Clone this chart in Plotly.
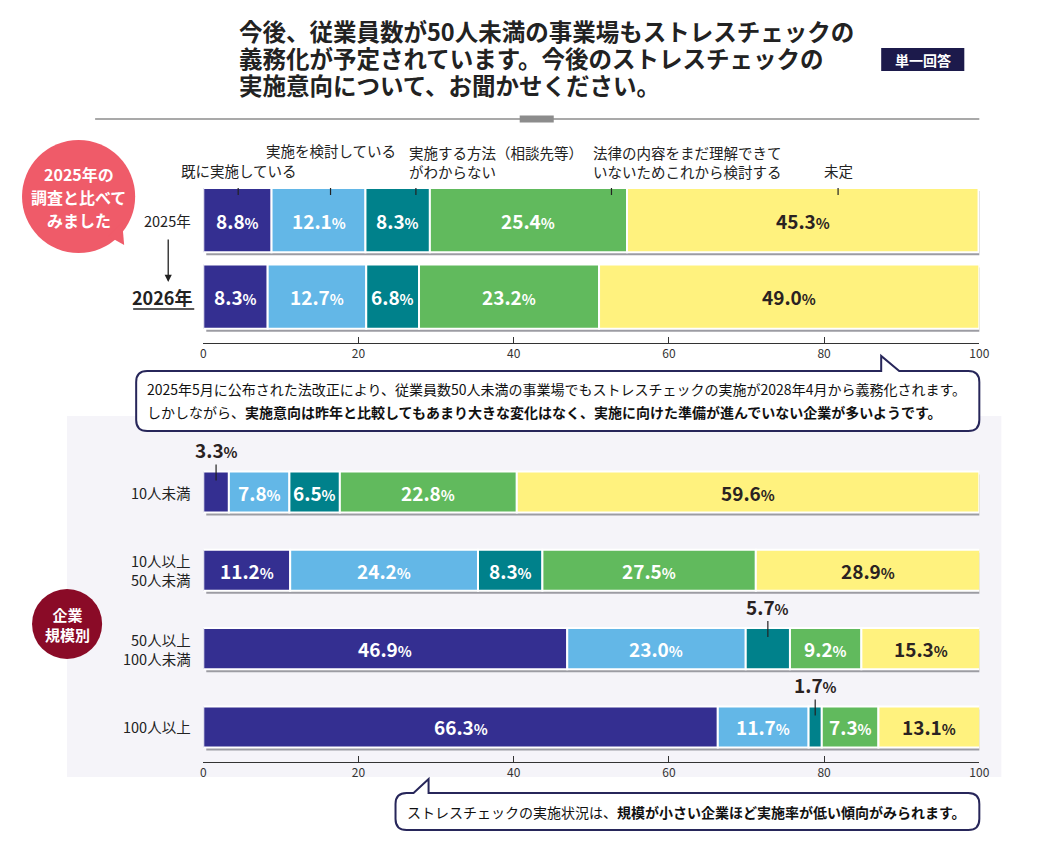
import numpy as np
import plotly.graph_objects as go

# the page adds an 8px body margin, so the figure is made that much smaller
PAGE = 8
W, H = 1044 - 2 * PAGE, 842 - 2 * PAGE
# measured horizontal mapping of figure px -> screenshot px
SX, OX = 0.986, 11.0
FONT = "Noto Sans CJK JP, Noto Sans, sans-serif"

# --- data ---
categories = ["既に実施している", "実施を検討している",
              "実施する方法（相談先等）<br>がわからない",
              "法律の内容をまだ理解できて<br>いないためこれから検討する", "未定"]
colors = ["#342f91", "#63b7e7", "#00818b", "#61ba5d", "#fff27e"]
text_colors = ["white", "white", "white", "white", "#2a2222"]

years = ["2025年", "2026年"]
year_values = [
    [8.8, 12.1, 8.3, 25.4, 45.3],
    [8.3, 12.7, 6.8, 23.2, 49.0],
]

sizes = ["10人未満", "10人以上<br>50人未満", "50人以上<br>100人未満", "100人以上"]
size_values = [
    [3.3, 7.8, 6.5, 22.8, 59.6],
    [11.2, 24.2, 8.3, 27.5, 28.9],
    [46.9, 23.0, 5.7, 9.2, 15.3],
    [66.3, 11.7, 1.7, 7.3, 13.1],
]

ticks = [0, 20, 40, 60, 80, 100]

title_lines = ["今後、従業員数が50人未満の事業場もストレスチェックの",
               "義務化が予定されています。今後のストレスチェックの",
               "実施意向について、お聞かせください。"]

note1 = ["2025年5月に公布された法改正により、従業員数50人未満の事業場でもストレスチェックの実施が2028年4月から義務化されます。",
         "しかしながら、<b>実施意向は昨年と比較してもあまり大きな変化はなく、実施に向けた準備が進んでいない企業が多いようです。</b>"]
note2 = "ストレスチェックの実施状況は、<b>規模が小さい企業ほど実施率が低い傾向がみられます。</b>"

# where the category labels / leader lines sit above the 2025 bar (x in data units)
legend_line_x = [4.5, 16.4, 27.4, 52.6, 81.8]
legend_text_x = [4.6, 16.5, 26.3, 49.9, 81.8]
legend_anchor = ["center", "center", "left", "left", "center"]
legend_text_y = [171, 150, 162, 162, 171]


def px(x):
    return ((x - OX) / SX) / W


def py(y):
    return 1 - (y - PAGE) / H


def pct(v, small=14.5):
    return f"<b>{v:.1f}<span style='font-size:{small}px'>%</span></b>"


fig = go.Figure()

XPX0, XPX1 = 203, 978
x_per_px = 100 / (XPX1 - XPX0)

# top chart: rows 0..1, bottom chart rows 0..3
top = dict(xa="x", ya="y", width=0.84, dom=(188, 343), rng=[1.608, -0.42])
bot = dict(xa="x2", ya="y2", width=0.524, dom=(455, 762), rng=[3.448, -0.4725])

annotations = []
shapes = []


def note(x, y, text, size, color="#222", xanchor="center", **kw):
    annotations.append(dict(x=px(x), y=py(y), xref="paper", yref="paper", text=text,
                            showarrow=False, xanchor=xanchor, yanchor="middle",
                            font=dict(size=size, color=color, family=FONT), **kw))


def add_block(values, cfg):
    vals = np.array(values)
    bases = np.cumsum(vals, axis=1) - vals
    rows = np.arange(len(vals))
    w = cfg["width"]
    y_per_px = (cfg["rng"][0] - cfg["rng"][1]) / (cfg["dom"][1] - cfg["dom"][0])
    # drop shadow
    fig.add_trace(go.Bar(x=vals.sum(axis=1), y=rows, base=3 * x_per_px, width=w,
                         offset=-w / 2 + 3 * y_per_px, orientation="h",
                         marker=dict(color="#9c9ca3", line=dict(width=0)),
                         xaxis=cfg["xa"], yaxis=cfg["ya"], hoverinfo="skip",
                         showlegend=False))
    for j in range(vals.shape[1]):
        fig.add_trace(go.Bar(x=vals[:, j], y=rows, base=bases[:, j], width=w,
                             orientation="h", name=categories[j],
                             marker=dict(color=colors[j], line=dict(color="white", width=2)),
                             xaxis=cfg["xa"], yaxis=cfg["ya"], hoverinfo="skip",
                             showlegend=False))
    for i in rows:
        for j in range(vals.shape[1]):
            v = vals[i, j]
            mid = bases[i, j] + v / 2
            if v >= 6:
                annotations.append(dict(x=mid, y=i, xref=cfg["xa"], yref=cfg["ya"],
                                        text=pct(v), showarrow=False,
                                        xanchor="center", yanchor="middle",
                                        font=dict(size=19, color=text_colors[j], family=FONT)))
            else:
                annotations.append(dict(x=mid, y=i - w / 2, xref=cfg["xa"], yref=cfg["ya"],
                                        text=pct(v), showarrow=False, xanchor="center",
                                        yanchor="bottom", yshift=6,
                                        font=dict(size=19, color="#2a2222", family=FONT)))
                shapes.append(dict(type="line", xref=cfg["xa"], yref=cfg["ya"],
                                   x0=mid, x1=mid, ysizemode="pixel", yanchor=i - w / 2,
                                   y0=-9, y1=7, line=dict(color="#222", width=1.2)))


add_block(year_values, top)
add_block(size_values, bot)

# category labels with leader lines above 2025 bar
for j, cat in enumerate(categories):
    annotations.append(dict(x=legend_text_x[j], y=py(legend_text_y[j]), xref="x", yref="paper",
                            text=cat, showarrow=False, xanchor=legend_anchor[j],
                            yanchor="middle", align="left",
                            font=dict(size=14.5, color="#222", family=FONT)))
    top_len = 36 if legend_text_y[j] == 150 else 9
    shapes.append(dict(type="line", xref="x", yref="y", x0=legend_line_x[j], x1=legend_line_x[j],
                       ysizemode="pixel", yanchor=-top["width"] / 2, y0=-7, y1=top_len,
                       line=dict(color="#222", width=1.2)))

# row labels
annotations.append(dict(x=px(193), y=0, xref="paper", yref="y", text=years[0], showarrow=False,
                        xanchor="right", yanchor="middle",
                        font=dict(size=14.5, color="#222", family=FONT)))
annotations.append(dict(x=px(194), y=1, xref="paper", yref="y", text="<b>" + years[1] + "</b>",
                        showarrow=False, xanchor="right", yanchor="middle",
                        font=dict(size=18, color="#222", family=FONT)))
shapes.append(dict(type="line", xref="paper", yref="paper", x0=px(133), x1=px(194),
                   y0=py(309), y1=py(309), line=dict(color="#222", width=1.5)))
annotations.append(dict(x=px(168), y=py(282), xref="paper", yref="paper", ax=0, ay=-44,
                        text="", showarrow=True, arrowhead=2, arrowsize=1.1, arrowwidth=1.3,
                        arrowcolor="#222"))
for i, s in enumerate(sizes):
    annotations.append(dict(x=px(193), y=i, xref="paper", yref="y2", text=s, showarrow=False,
                            xanchor="right", yanchor="middle", align="right",
                            font=dict(size=14.5, color="#222", family=FONT)))

# title and badge
for k, line in enumerate(title_lines):
    note(237, 31 + 27 * k, "<b>" + line + "</b>", 23.5, xanchor="left")
shapes.append(dict(type="rect", xref="paper", yref="paper", x0=px(880), x1=px(963),
                   y0=py(71), y1=py(48), fillcolor="#1c1a4b", line=dict(width=0)))
note(921.5, 59.5, "<b>単一回答</b>", 14, color="white")
shapes.append(dict(type="line", xref="paper", yref="paper", x0=px(95), x1=px(978),
                   y0=py(119), y1=py(119), line=dict(color="#8c8c8c", width=1.5)))
shapes.append(dict(type="rect", xref="paper", yref="paper", x0=px(519), x1=px(553),
                   y0=py(122.5), y1=py(115.5), fillcolor="#8c8c8c", line=dict(width=0)))

# background panel for company size block
shapes.append(dict(type="rect", xref="paper", yref="paper", x0=px(67), x1=px(1000),
                   y0=py(777), y1=py(416), fillcolor="#f5f4f9", line=dict(width=0),
                   layer="below"))


def box_path(x0, y0, x1, y1, r, tail):
    pts = [(x0 + r, y0)] + tail + [(x1 - r, y0)]
    d = "M " + " L ".join(f"{px(a):.5f},{py(b):.5f}" for a, b in pts)

    def q(c, e):
        return f" Q {px(c[0]):.5f},{py(c[1]):.5f} {px(e[0]):.5f},{py(e[1]):.5f}"
    d += q((x1, y0), (x1, y0 + r))
    d += f" L {px(x1):.5f},{py(y1 - r):.5f}" + q((x1, y1), (x1 - r, y1))
    d += f" L {px(x0 + r):.5f},{py(y1):.5f}" + q((x0, y1), (x0, y1 - r))
    d += f" L {px(x0):.5f},{py(y0 + r):.5f}" + q((x0, y0), (x0 + r, y0)) + " Z"
    return d


shapes.append(dict(type="path", xref="paper", yref="paper",
                   path=box_path(136, 371, 978, 431, 11, [(880, 371), (880, 356), (898, 371)]),
                   fillcolor="white", line=dict(color="#27265a", width=2)))
shapes.append(dict(type="path", xref="paper", yref="paper",
                   path=box_path(395, 793, 978, 830, 11, [(413, 793), (428, 779), (428, 793)]),
                   fillcolor="white", line=dict(color="#27265a", width=2)))
for k, line in enumerate(note1):
    note(145, 389 + 23 * k, line, 14, color="#111", xanchor="left")
note(404, 811.5, note2, 14, color="#111", xanchor="left")

# speech bubbles on the left
shapes.append(dict(type="circle", xref="paper", yref="paper", x0=px(22), x1=px(135),
                   y0=py(253), y1=py(140), fillcolor="#ef5b69", line=dict(width=0)))
shapes.append(dict(type="path", xref="paper", yref="paper",
                   path=f"M {px(108)},{py(236)} L {px(124)},{py(245)} L {px(122)},{py(222)} Z",
                   fillcolor="#ef5b69", line=dict(width=0)))
for k, line in enumerate(["2025年の", "調査と比べて", "みました"]):
    note(78.5, 174 + 23 * k, "<b>" + line + "</b>", 16, color="white")
shapes.append(dict(type="circle", xref="paper", yref="paper", x0=px(32), x1=px(102),
                   y0=py(659), y1=py(589), fillcolor="#8a0b27", line=dict(width=0)))
note(67, 624, "<b>企業<br>規模別</b>", 15, color="white")

xcommon = dict(range=[0, 100], tickvals=ticks, showline=True, linecolor="#333", linewidth=1,
               ticks="inside", ticklen=6, tickcolor="#333", showgrid=False, zeroline=False,
               tickfont=dict(size=12, color="#333", family=FONT), fixedrange=True)
ycommon = dict(showticklabels=False, showgrid=False, zeroline=False, showline=False,
               ticks="", fixedrange=True)

fig.update_layout(
    width=W, height=H, margin=dict(l=0, r=0, t=0, b=0),
    paper_bgcolor="white", plot_bgcolor="rgba(0,0,0,0)",
    barmode="overlay", showlegend=False,
    xaxis=dict(domain=[px(XPX0), px(XPX1)], anchor="y", **xcommon),
    yaxis=dict(domain=[py(top["dom"][1]), py(top["dom"][0])], range=top["rng"], anchor="x",
               **ycommon),
    xaxis2=dict(domain=[px(XPX0), px(XPX1)], anchor="y2", **xcommon),
    yaxis2=dict(domain=[py(bot["dom"][1]), py(bot["dom"][0])], range=bot["rng"], anchor="x2",
                **ycommon),
    annotations=annotations, shapes=shapes,
    font=dict(family=FONT),
)

fig.write_html("out.html")
